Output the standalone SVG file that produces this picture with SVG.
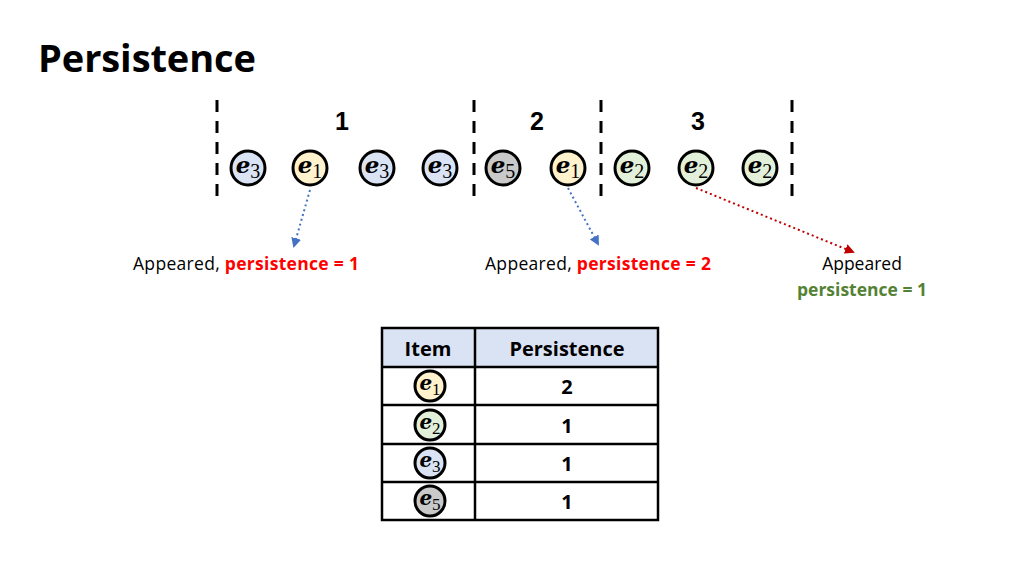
<svg xmlns="http://www.w3.org/2000/svg" width="1024" height="576" viewBox="0 0 1024 576">
<defs>
<style>
.t{font-family:"Open Sans","Liberation Sans",sans-serif}
.e{font-family:"DejaVu Serif","Liberation Serif",serif;font-weight:bold;font-style:italic;text-anchor:middle}
.s{font-family:"Liberation Serif",serif;font-style:normal;font-weight:normal}
.c{stroke:#000;stroke-width:3}
.dash{stroke:#000;stroke-width:3;stroke-dasharray:12,9}
</style>
<marker id="ab" viewBox="0 0 10 10" refX="8" refY="5" markerWidth="5" markerHeight="5" orient="auto"><path d="M0,0L10,5L0,10z" fill="#4472c4"/></marker>
<marker id="ar" viewBox="0 0 10 10" refX="8" refY="5" markerWidth="5" markerHeight="5" orient="auto"><path d="M0,0L10,5L0,10z" fill="#c00000"/></marker>
</defs>
<rect width="1024" height="576" fill="#fff"/>
<text x="38" y="72" class="t" font-size="38" font-weight="bold" textLength="218">Persistence</text>
<g id="dividers">
<line x1="217" y1="100" x2="217" y2="197" class="dash"/>
<line x1="474" y1="100" x2="474" y2="197" class="dash"/>
<line x1="601" y1="100" x2="601" y2="197" class="dash"/>
<line x1="792" y1="100" x2="792" y2="197" class="dash"/>
</g>
<g font-size="25" font-weight="bold" text-anchor="middle" font-family="Liberation Sans,sans-serif">
<text x="342" y="130">1</text>
<text x="537" y="130">2</text>
<text x="698" y="130">3</text>
</g>
<g id="n1"><circle cx="248" cy="168" r="17" fill="#dae3f3" class="c"/><text x="248" y="173" class="e" font-size="23">e<tspan class="s" font-size="20" dy="5">3</tspan></text></g>
<g id="n2"><circle cx="310" cy="168" r="17" fill="#fff2cc" class="c"/><text x="310" y="173" class="e" font-size="23">e<tspan class="s" font-size="20" dy="5">1</tspan></text></g>
<g id="n3"><circle cx="377" cy="168" r="17" fill="#dae3f3" class="c"/><text x="377" y="173" class="e" font-size="23">e<tspan class="s" font-size="20" dy="5">3</tspan></text></g>
<g id="n4"><circle cx="440" cy="168" r="17" fill="#dae3f3" class="c"/><text x="440" y="173" class="e" font-size="23">e<tspan class="s" font-size="20" dy="5">3</tspan></text></g>
<g id="n5"><circle cx="503" cy="168" r="17" fill="#c9c9c9" class="c"/><text x="503" y="173" class="e" font-size="23">e<tspan class="s" font-size="20" dy="5">5</tspan></text></g>
<g id="n6"><circle cx="568" cy="168" r="17" fill="#fff2cc" class="c"/><text x="568" y="173" class="e" font-size="23">e<tspan class="s" font-size="20" dy="5">1</tspan></text></g>
<g id="n7"><circle cx="632" cy="168" r="17" fill="#e2f0d9" class="c"/><text x="632" y="173" class="e" font-size="23">e<tspan class="s" font-size="20" dy="5">2</tspan></text></g>
<g id="n8"><circle cx="696" cy="168" r="17" fill="#e2f0d9" class="c"/><text x="696" y="173" class="e" font-size="23">e<tspan class="s" font-size="20" dy="5">2</tspan></text></g>
<g id="n9"><circle cx="760" cy="168" r="17" fill="#e2f0d9" class="c"/><text x="760" y="173" class="e" font-size="23">e<tspan class="s" font-size="20" dy="5">2</tspan></text></g>
<g id="connectors" fill="none" stroke-width="2" stroke-dasharray="2,3">
<line x1="310" y1="190" x2="294" y2="246" stroke="#4472c4" marker-end="url(#ab)"/>
<line x1="568" y1="188" x2="598" y2="244" stroke="#4472c4" marker-end="url(#ab)"/>
<line x1="696" y1="188" x2="853" y2="252" stroke="#c00000" marker-end="url(#ar)"/>
</g>
<g class="t" font-size="17.5">
<text x="133" y="270" textLength="226">Appeared, <tspan fill="#ff0000" font-weight="bold">persistence = 1</tspan></text>
<text x="485" y="270" textLength="226">Appeared, <tspan fill="#ff0000" font-weight="bold">persistence = 2</tspan></text>
<text x="862" y="270" text-anchor="middle">Appeared</text>
<text x="862" y="296" text-anchor="middle" fill="#548235" font-weight="bold">persistence = 1</text>
</g>
<g id="table">
<rect x="382" y="328" width="276" height="39" fill="#dae3f3"/>
<g stroke="#000" stroke-width="2.5" fill="none">
<rect x="382" y="328" width="276" height="192"/>
<line x1="475" y1="328" x2="475" y2="520"/>
<line x1="382" y1="367" x2="658" y2="367"/>
<line x1="382" y1="405" x2="658" y2="405"/>
<line x1="382" y1="444" x2="658" y2="444"/>
<line x1="382" y1="482" x2="658" y2="482"/>
</g>
<g class="t" font-size="20" font-weight="bold" text-anchor="middle">
<text x="428" y="356">Item</text>
<text x="567" y="356">Persistence</text>
<text x="567" y="394">2</text>
<text x="567" y="433">1</text>
<text x="567" y="471">1</text>
<text x="567" y="509">1</text>
</g>
<g><circle cx="430" cy="386" r="15" fill="#fff2cc" class="c" stroke-width="2.5"/><text x="430" y="390" class="e" font-size="20">e<tspan class="s" font-size="17" dy="5">1</tspan></text></g>
<g><circle cx="430" cy="425" r="15" fill="#e2f0d9" class="c" stroke-width="2.5"/><text x="430" y="429" class="e" font-size="20">e<tspan class="s" font-size="17" dy="5">2</tspan></text></g>
<g><circle cx="430" cy="463" r="15" fill="#dae3f3" class="c" stroke-width="2.5"/><text x="430" y="467" class="e" font-size="20">e<tspan class="s" font-size="17" dy="5">3</tspan></text></g>
<g><circle cx="430" cy="501" r="15" fill="#c9c9c9" class="c" stroke-width="2.5"/><text x="430" y="505" class="e" font-size="20">e<tspan class="s" font-size="17" dy="5">5</tspan></text></g>
</g>
</svg>
